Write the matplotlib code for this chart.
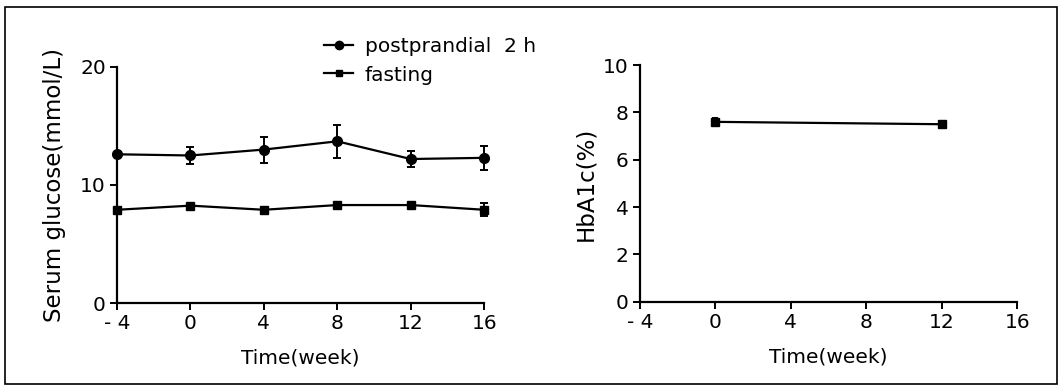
import matplotlib
matplotlib.use("Agg")
import matplotlib.pyplot as plt
from matplotlib.patches import Rectangle
from matplotlib.lines import Line2D

plt.rcParams['font.family'] = ['DejaVu Sans']

weeks = [-4, 0, 4, 8, 12, 16]
post_mean = [12.6, 12.5, 13.0, 13.7, 12.2, 12.3]
post_err = [0.0, 0.7, 1.1, 1.4, 0.7, 1.0]
fast_mean = [7.9, 8.25, 7.9, 8.3, 8.3, 7.9]
fast_err = [0.0, 0.15, 0.15, 0.15, 0.15, 0.55]

hb_weeks = [0, 12]
hb_mean = [7.6, 7.5]
hb_err = [0.15, 0.15]

xticks = [-4, 0, 4, 8, 12, 16]
xticklabels = ['- 4', '0', '4', '8', '12', '16']
left_yticks = [0, 10, 20]
right_yticks = [0, 2, 4, 6, 8, 10]

fs = 14.5
yfs = 16.5
fig = plt.figure(figsize=(10.61, 3.87), dpi=100)

def style(ax):
    ax.spines['top'].set_visible(False)
    ax.spines['right'].set_visible(False)
    for s in ('left', 'bottom'):
        ax.spines[s].set_linewidth(1.6)
    ax.tick_params(direction='out', length=5, width=1.4, labelsize=fs, pad=3)
    ax.set_xlim(-4, 16)
    ax.set_xticks(xticks)
    ax.set_xticklabels(xticklabels)
    ax.set_xlabel('Time(week)', fontsize=fs, labelpad=11)

ax1 = fig.add_axes([0.1103, 0.217, 0.346, 0.610])
style(ax1)
ax1.set_ylim(0, 20)
ax1.set_yticks(left_yticks)
ax1.errorbar(weeks, post_mean, yerr=post_err, color='black', marker='o', ms=7,
             lw=1.6, elinewidth=1.4, capsize=3, capthick=1.4, clip_on=False)
ax1.errorbar(weeks, fast_mean, yerr=fast_err, color='black', marker='s', ms=6,
             lw=1.6, elinewidth=1.4, capsize=3, capthick=1.4, clip_on=False)
ax1.set_ylabel('Serum glucose(mmol/L)', fontsize=yfs, labelpad=10)
handles = [Line2D([], [], color='black', marker='o', ms=6, lw=1.6),
           Line2D([], [], color='black', marker='s', ms=5, lw=1.6)]
ax1.legend(handles, ['postprandial  2 h', 'fasting'], loc='upper left',
           bbox_to_anchor=(0.565, 1.125), frameon=False, fontsize=fs,
           handlelength=1.4, handletextpad=0.6, labelspacing=0.45,
           borderaxespad=0, borderpad=0)

ax2 = fig.add_axes([0.603, 0.220, 0.356, 0.612])
style(ax2)
ax2.set_ylim(0, 10)
ax2.set_yticks(right_yticks)
ax2.errorbar(hb_weeks, hb_mean, yerr=hb_err, color='black', marker='s', ms=6,
             lw=1.6, elinewidth=1.4, capsize=2, capthick=1.4, clip_on=False)
ax2.set_ylabel('HbA1c(%)', fontsize=yfs, labelpad=4)

fig.patches.append(Rectangle((0.0047, 0.008), 0.992, 0.974, transform=fig.transFigure,
                             fill=False, edgecolor='black', linewidth=1.2))

fig.savefig('out.png', dpi=100)
